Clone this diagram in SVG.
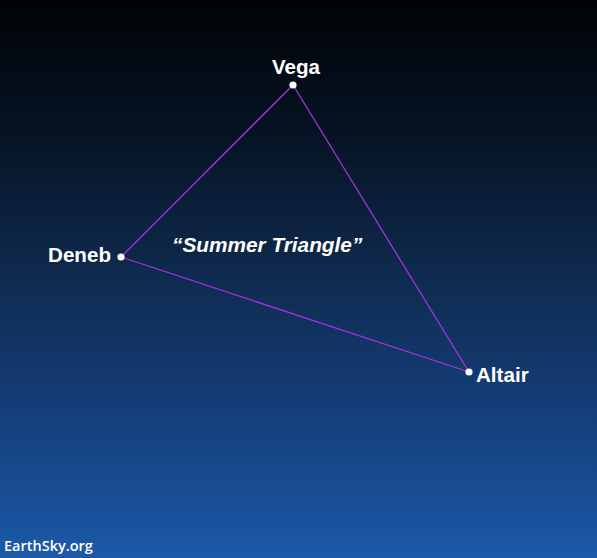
<svg xmlns="http://www.w3.org/2000/svg" width="597" height="558" viewBox="0 0 597 558">
<defs>
<linearGradient id="sky" x1="0" y1="0" x2="0" y2="1">
<stop offset="0" stop-color="#010306"/>
<stop offset="0.25" stop-color="#071426"/>
<stop offset="0.5" stop-color="#0f2b50"/>
<stop offset="0.8" stop-color="#164485"/>
<stop offset="1" stop-color="#1c5aa8"/>
</linearGradient>
<style>
.star{fill:#ffffff}
.lbl{font-family:"Liberation Sans",Arial,sans-serif;font-weight:bold;font-size:20.6px;fill:#ffffff}
.title{font-family:"Liberation Sans",Arial,sans-serif;font-weight:bold;font-style:italic;font-size:20.8px;fill:#ffffff}
.credit{font-family:"Open Sans",sans-serif;font-weight:600;font-size:14.5px;fill:#ffffff}
.edge{stroke:#a334dc;stroke-width:1.3;fill:none}
</style>
</defs>
<rect x="0" y="0" width="597" height="558" fill="url(#sky)"/>
<g id="connectors">
<line class="edge" x1="293" y1="85" x2="121" y2="257"/>
<line class="edge" x1="293" y1="85" x2="469" y2="372"/>
<line class="edge" x1="121" y1="257" x2="469" y2="372"/>
</g>
<g id="vega">
<circle class="star" cx="293" cy="85" r="3.6"/>
<text class="lbl" x="296" y="74" text-anchor="middle">Vega</text>
</g>
<g id="deneb">
<circle class="star" cx="121" cy="257" r="3.6"/>
<text class="lbl" x="48" y="262" textLength="63">Deneb</text>
</g>
<g id="altair">
<circle class="star" cx="469" cy="372" r="3.6"/>
<text class="lbl" x="476" y="382">Altair</text>
</g>
<g id="title">
<text class="title" x="172" y="252">“Summer Triangle”</text>
</g>
<text class="credit" x="4" y="551">EarthSky.org</text>
</svg>
